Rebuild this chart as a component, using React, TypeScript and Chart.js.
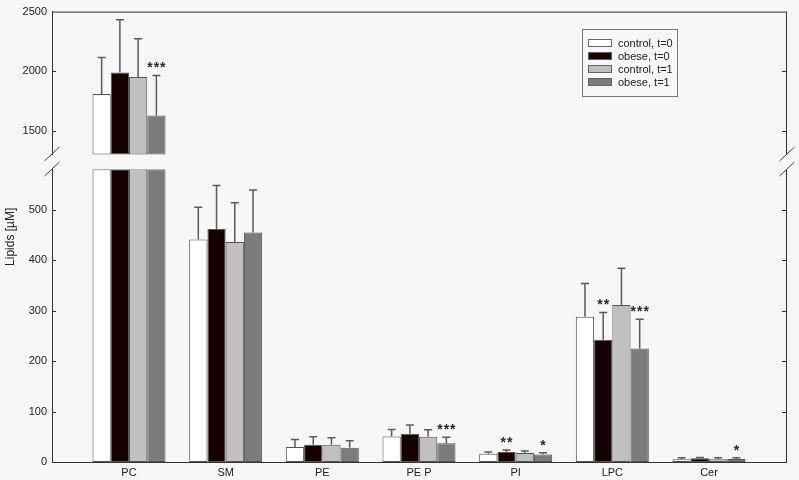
import React, { useEffect, useRef } from 'react';
import { Chart, registerables } from 'chart.js';

Chart.register(...registerables);

const CATEGORIES = ['PC', 'SM', 'PE', 'PE P', 'PI', 'LPC', 'Cer'];
const SERIES = ['control, t=0', 'obese, t=0', 'control, t=1', 'obese, t=1'];

const CONTROL_T0 = [1808, 441, 29.5, 50.5, 16.5, 288, 5.3];
const OBESE_T0 = [1989, 462, 34, 56, 19.7, 242.5, 7.3];
const CONTROL_T1 = [1950, 436, 34, 50, 17.7, 311, 5.3];
const OBESE_T1 = [1628, 455, 28, 37, 15, 225, 6];

const CONTROL_T0_SD = [306, 64, 15, 14, 3.2, 66, 3.2];
const OBESE_T0_SD = [442, 86, 16, 17.5, 4.3, 54, 1.5];
const CONTROL_T1_SD = [322, 78, 14, 14, 4.3, 73, 3.2];
const OBESE_T1_SD = [336, 84, 14, 12, 3.5, 58, 2.6];

const CONTROL_T0_SIG = ['', '', '', '', '', '', ''];
const OBESE_T0_SIG = ['', '', '', '', '**', '**', ''];
const CONTROL_T1_SIG = ['', '', '', '', '', '', ''];
const OBESE_T1_SIG = ['***', '', '', '***', '*', '***', '*'];

const LOWER_TICKS = [0, 100, 200, 300, 400, 500];
const UPPER_TICKS = [1500, 2000, 2500];
const LOWER_MAX = 580;
const BREAK_VALUE = 1300;
const UPPER_MIN = 1175;
const UPPER_MAX = 2500;

const VALUES = [CONTROL_T0, OBESE_T0, CONTROL_T1, OBESE_T1];
const SDS = [CONTROL_T0_SD, OBESE_T0_SD, CONTROL_T1_SD, OBESE_T1_SD];
const SIGS = [CONTROL_T0_SIG, OBESE_T0_SIG, CONTROL_T1_SIG, OBESE_T1_SIG];
const FILLS = ['#ffffff', '#170000', '#c0c0c0', '#7b7b7b'];

const BG = '#f7f7f7';
const AXIS = '#333333';
const TEXT = '#222222';
const FONT = '"Liberation Sans", Arial, sans-serif';

const decorPlugin = {
  id: 'decor',
  afterDatasetsDraw(chart: any) {
    const ctx = chart.ctx;
    const yLow = chart.scales.y;
    const yUp = chart.scales.yUp;
    ctx.save();
    ctx.strokeStyle = '#5a5a5a';
    ctx.lineWidth = 1.5;
    for (let i = 0; i < 4; i++) {
      const metaLow = chart.getDatasetMeta(i);
      const metaUp = chart.getDatasetMeta(i + 4);
      VALUES[i].forEach((v, j) => {
        const sd = SDS[i][j];
        const upper = v > BREAK_VALUE;
        const scale = upper ? yUp : yLow;
        const el = upper ? metaUp.data[j] : metaLow.data[j];
        if (!el) return;
        const x = el.x;
        const y0 = scale.getPixelForValue(v);
        const y1 = scale.getPixelForValue(v + sd);
        ctx.beginPath();
        ctx.moveTo(x, y0);
        ctx.lineTo(x, y1);
        ctx.moveTo(x - 4, y1);
        ctx.lineTo(x + 4, y1);
        ctx.stroke();
        const sig = SIGS[i][j];
        if (sig) {
          ctx.save();
          ctx.fillStyle = '#2a2a2a';
          ctx.font = 'bold 14px ' + FONT;
          (ctx as any).letterSpacing = '1px';
          ctx.textAlign = 'center';
          ctx.textBaseline = 'alphabetic';
          ctx.fillText(sig, x + 0.5, y1 - 3);
          ctx.restore();
        }
      });
    }
    ctx.restore();
  },
  afterDraw(chart: any) {
    const ctx = chart.ctx;
    const { left, right, top, bottom } = chart.chartArea;
    const yLow = chart.scales.y;
    const yUp = chart.scales.yUp;
    const breakTop = Math.round(yUp.getPixelForValue(BREAK_VALUE));
    const breakBottom = Math.round(yLow.top);
    ctx.save();
    ctx.fillStyle = BG;
    ctx.fillRect(left - 3, breakTop + 1, 6, breakBottom - breakTop - 1);
    ctx.strokeStyle = AXIS;
    ctx.lineWidth = 1;
    ctx.beginPath();
    ctx.moveTo(left, top + 0.5);
    ctx.lineTo(right, top + 0.5);
    ctx.moveTo(right + 0.5, top);
    ctx.lineTo(right + 0.5, breakTop);
    ctx.moveTo(right + 0.5, breakBottom);
    ctx.lineTo(right + 0.5, bottom);
    ctx.stroke();
    ctx.beginPath();
    const addTicks = (scale: any, values: number[]) => {
      values.forEach((v) => {
        const py = Math.round(scale.getPixelForValue(v)) + 0.5;
        ctx.moveTo(left, py);
        ctx.lineTo(left + 4, py);
        ctx.moveTo(right, py);
        ctx.lineTo(right - 4, py);
      });
    };
    addTicks(yLow, LOWER_TICKS.filter((v) => v > 0));
    addTicks(yUp, UPPER_TICKS.filter((v) => v < UPPER_MAX));
    ctx.stroke();
    ctx.strokeStyle = '#444';
    ctx.beginPath();
    [left, right + 1].forEach((ax) => {
      [breakTop, breakBottom].forEach((by) => {
        ctx.moveTo(ax - 7.5, by + 7);
        ctx.lineTo(ax + 7.5, by - 7);
      });
    });
    ctx.stroke();
    ctx.save();
    ctx.fillStyle = TEXT;
    ctx.font = '12px ' + FONT;
    ctx.textAlign = 'center';
    ctx.textBaseline = 'middle';
    ctx.translate(11, (top + bottom) / 2);
    ctx.rotate(-Math.PI / 2);
    ctx.fillText('Lipids [µM]', 0, 0);
    ctx.restore();
    const lx = 582, ly = 29, lw = 95, lh = 67;
    ctx.fillStyle = BG;
    ctx.fillRect(lx, ly, lw, lh);
    ctx.strokeStyle = '#777';
    ctx.strokeRect(lx + 0.5, ly + 0.5, lw, lh);
    ctx.font = '11px ' + FONT;
    ctx.textAlign = 'left';
    ctx.textBaseline = 'middle';
    SERIES.forEach((label, i) => {
      const cy = 43 + i * 13;
      ctx.fillStyle = FILLS[i];
      ctx.fillRect(588.5, cy - 3.5, 23, 7);
      ctx.strokeStyle = '#666';
      ctx.strokeRect(588.5, cy - 3.5, 23, 7);
      ctx.fillStyle = TEXT;
      ctx.fillText(label, 618, cy + 0.5);
    });
    ctx.restore();
  },
};

export default function App() {
  const ref = useRef<HTMLCanvasElement | null>(null);
  useEffect(() => {
    if (!ref.current) return;
    const lower = VALUES.map((vals, i) => ({
      label: SERIES[i],
      data: vals.map((v, j) => ({ x: j, y: Math.min(v, LOWER_MAX) })),
      yAxisID: 'y',
      stack: 's' + i,
      backgroundColor: FILLS[i],
      borderColor: '#555555',
      borderWidth: 1,
      borderSkipped: false,
    }));
    const upper = VALUES.map((vals, i) => ({
      label: SERIES[i] + ' (upper)',
      data: vals.map((v, j) => ({ x: j, y: v > BREAK_VALUE ? [BREAK_VALUE, v] : null })),
      yAxisID: 'yUp',
      stack: 's' + i,
      backgroundColor: FILLS[i],
      borderColor: '#555555',
      borderWidth: 1,
      borderSkipped: false,
    }));
    const tickFont = { family: FONT, size: 11 };
    const chart = new Chart(ref.current, {
      type: 'bar',
      data: { datasets: [...lower, ...upper] as any },
      plugins: [decorPlugin],
      options: {
        animation: false,
        responsive: true,
        maintainAspectRatio: false,
        layout: { padding: { left: 0, right: 13, top: 8, bottom: 0 } },
        datasets: { bar: { categoryPercentage: 0.755, barPercentage: 1 } },
        plugins: { legend: { display: false }, tooltip: { enabled: false } },
        scales: {
          y: {
            type: 'linear',
            position: 'left',
            stack: 'v',
            stackWeight: 295,
            stacked: false,
            min: 0,
            max: LOWER_MAX,
            afterBuildTicks: (s: any) => { s.ticks = LOWER_TICKS.map((v) => ({ value: v })); },
            afterFit: (s: any) => { s.width = 52; },
            grid: { display: false, drawTicks: false },
            border: { display: true, color: AXIS, width: 1 },
            ticks: { font: tickFont, color: TEXT, padding: 5, callback: (v: any) => String(v) },
          },
          yUp: {
            type: 'linear',
            position: 'left',
            stack: 'v',
            stackWeight: 159,
            stacked: false,
            min: UPPER_MIN,
            max: UPPER_MAX,
            afterBuildTicks: (s: any) => { s.ticks = UPPER_TICKS.map((v) => ({ value: v })); },
            afterFit: (s: any) => { s.width = 52; },
            grid: { display: false, drawTicks: false },
            border: { display: true, color: AXIS, width: 1 },
            ticks: { font: tickFont, color: TEXT, padding: 5, callback: (v: any) => String(v) },
          },
          x: {
            type: 'linear',
            position: 'bottom',
            min: -0.7966,
            max: CATEGORIES.length - 1 + 0.7966,
            offset: false,
            afterBuildTicks: (s: any) => { s.ticks = CATEGORIES.map((_, i) => ({ value: i })); },
            afterFit: (s: any) => { s.height = 18; },
            grid: { display: false, drawTicks: false },
            border: { display: true, color: AXIS, width: 1 },
            ticks: {
              font: tickFont,
              color: TEXT,
              padding: 4,
              autoSkip: false,
              maxRotation: 0,
              callback: (v: any) => CATEGORIES[Math.round(Number(v))] ?? '',
            },
          },
        } as any,
      },
    });
    return () => chart.destroy();
  }, []);
  return (
    <div style={{ position: 'fixed', left: 0, top: 0, width: 799, height: 480, background: BG }}>
      <canvas ref={ref} />
    </div>
  );
}
